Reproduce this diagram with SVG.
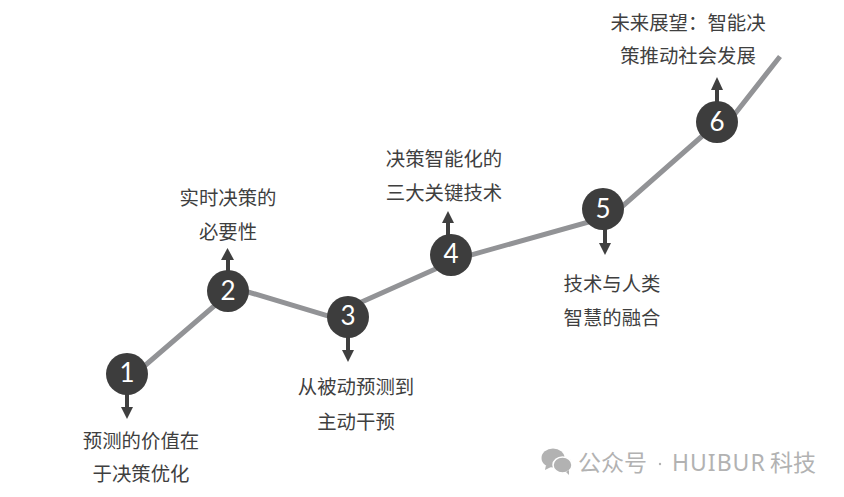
<svg xmlns="http://www.w3.org/2000/svg" width="844" height="497" viewBox="0 0 844 497">
<defs>
<style>
.line{fill:none;stroke:#929396;stroke-width:5;stroke-linejoin:miter}
.stem{fill:none;stroke:#3f3f3f;stroke-width:4}
.head{fill:#3f3f3f}
.c{fill:#3d3d3d}
.n{font-family:Lato,"Open Sans",sans-serif;font-size:26px;fill:#fff;text-anchor:middle}
.t{font-family:"Noto Sans CJK SC",sans-serif;font-size:19.4px;fill:#3f3f3f;text-anchor:middle}
.w{font-family:"Noto Sans CJK SC",sans-serif;font-size:23px;fill:#b2b2b2}
.e{font-family:"Noto Sans",sans-serif;font-size:23px;fill:#b2b2b2;letter-spacing:1px}
</style>
</defs>
<rect width="844" height="497" fill="#fff"/>
<g id="connectors">
<polyline class="line" points="127,381 235,288 329.500,316.400 460,258 612,215.400 717,123 725,126.500 780,56.500"/>
<path class="stem" d="M127,392V407"/><polygon class="head" points="121,407 133,407 127,419"/>
<path class="stem" d="M228,272V259"/><polygon class="head" points="221,260 234,260 227.500,248"/>
<path class="stem" d="M348,336V351"/><polygon class="head" points="342,350 354,350 348,362"/>
<path class="stem" d="M448,236V222"/><polygon class="head" points="442,223 454,223 448,211"/>
<path class="stem" d="M605,228V244"/><polygon class="head" points="599,243 611,243 605,255"/>
<path class="stem" d="M717,103V89"/><polygon class="head" points="711,90 723,90 717,77"/>
</g>
<g id="node1"><circle class="c" cx="127" cy="374" r="21"/><text class="n" x="127" y="382">1</text><text class="t" x="141" y="448">预测的价值在</text><text class="t" x="141" y="481">于决策优化</text></g>
<g id="node2"><circle class="c" cx="228" cy="291" r="21"/><text class="n" x="228" y="300">2</text><text class="t" x="228" y="205">实时决策的</text><text class="t" x="228" y="239">必要性</text></g>
<g id="node3"><circle class="c" cx="348" cy="317" r="21"/><text class="n" x="348" y="325">3</text><text class="t" x="356" y="394">从被动预测到</text><text class="t" x="356" y="429">主动干预</text></g>
<g id="node4"><circle class="c" cx="451" cy="255" r="21"/><text class="n" x="451" y="263">4</text><text class="t" x="444" y="166">决策智能化的</text><text class="t" x="444" y="200">三大关键技术</text></g>
<g id="node5"><circle class="c" cx="603" cy="209" r="21"/><text class="n" x="603" y="218">5</text><text class="t" x="612" y="291">技术与人类</text><text class="t" x="612" y="325">智慧的融合</text></g>
<g id="node6"><circle class="c" cx="717" cy="122" r="21"/><text class="n" x="717" y="131">6</text><text class="t" x="688" y="30">未来展望：智能决</text><text class="t" x="688" y="63">策推动社会发展</text></g>
<g id="watermark" fill="#b2b2b2">
<ellipse cx="553" cy="458" rx="11.500" ry="9.500"/><path d="M546,465l-1,5l6,-3z"/>
<ellipse cx="562.500" cy="465" rx="9.500" ry="8" stroke="#fff" stroke-width="1.500"/><path d="M566,472l3,3l0,-5z"/>
<text class="w" x="578" y="471">公众号</text>
<circle cx="660" cy="464" r="1.200"/>
<text class="e" x="672" y="471">HUIBUR</text>
<text class="w" x="770" y="471">科技</text>
</g>
</svg>
